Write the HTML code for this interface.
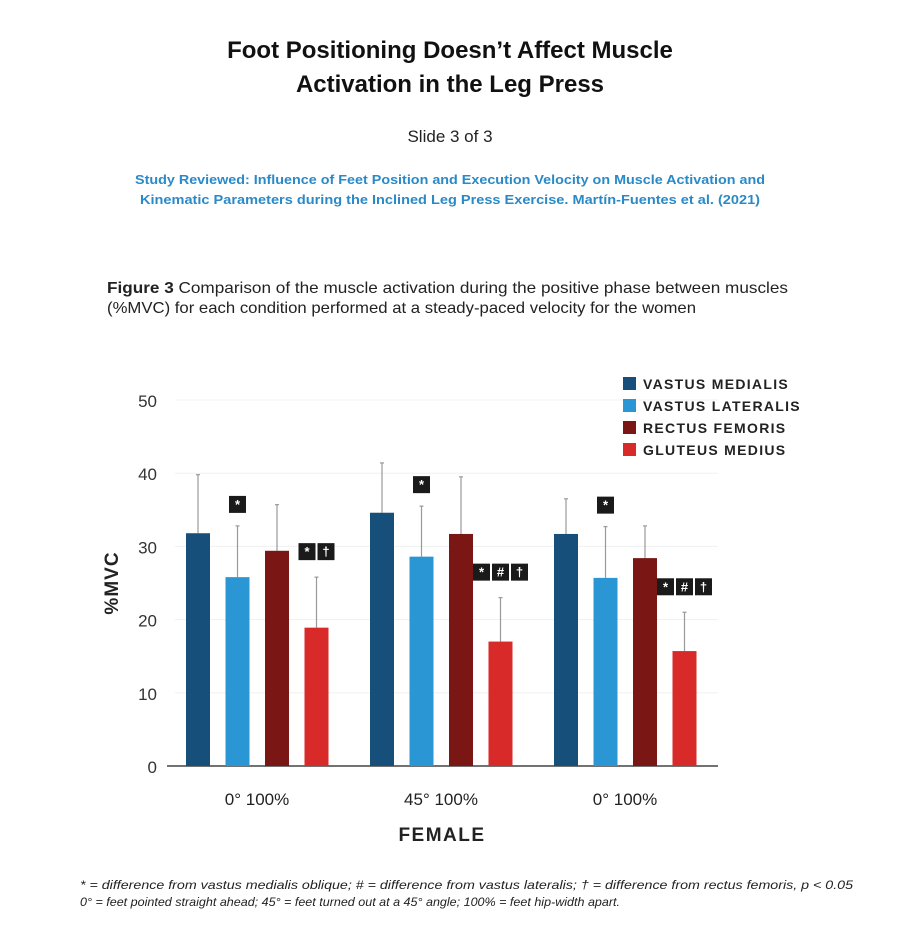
<!DOCTYPE html>
<html><head><meta charset="utf-8"><style>
html,body{margin:0;padding:0;background:#fff;}
svg{display:block;font-family:"Liberation Sans",sans-serif;}
</style></head><body>
<svg id="chart" width="918" height="929" viewBox="0 0 918 929">
<text x="450" y="58" text-anchor="middle" font-size="24" font-weight="bold" fill="#111">Foot Positioning Doesn’t Affect Muscle</text>
<text x="450" y="92" text-anchor="middle" font-size="24" font-weight="bold" fill="#111">Activation in the Leg Press</text>
<text x="450" y="142" text-anchor="middle" font-size="17" fill="#222">Slide 3 of 3</text>
<text x="450" y="184" text-anchor="middle" font-size="13" font-weight="bold" fill="#2a8ac8" textLength="630" lengthAdjust="spacingAndGlyphs">Study Reviewed: Influence of Feet Position and Execution Velocity on Muscle Activation and</text>
<text x="450" y="204" text-anchor="middle" font-size="13" font-weight="bold" fill="#2a8ac8" textLength="620" lengthAdjust="spacingAndGlyphs">Kinematic Parameters during the Inclined Leg Press Exercise. Martín-Fuentes et al. (2021)</text>
<text x="107" y="293" font-size="16" fill="#222" textLength="681" lengthAdjust="spacingAndGlyphs"><tspan font-weight="bold">Figure 3</tspan>   Comparison of the muscle activation during the positive phase between muscles</text>
<text x="107" y="313" font-size="16" fill="#222" textLength="589" lengthAdjust="spacingAndGlyphs">(%MVC) for each condition performed at a steady-paced velocity for the women</text>
<g id="grid"></g><g id="bars"></g><g id="ann"></g>
<text transform="translate(118,583) rotate(-90)" text-anchor="middle" font-size="19" font-weight="bold" fill="#222" letter-spacing="1">%MVC</text>
<text x="442" y="841" text-anchor="middle" font-size="19" font-weight="bold" fill="#222" letter-spacing="1.5">FEMALE</text>
<g id="legend"></g>
<text x="80" y="889" font-size="12" font-style="italic" fill="#222" textLength="773" lengthAdjust="spacingAndGlyphs">* = difference from vastus medialis oblique; # = difference from vastus lateralis; † = difference from rectus femoris, p &lt; 0.05</text>
<text x="80" y="906" font-size="12" font-style="italic" fill="#222" textLength="540" lengthAdjust="spacingAndGlyphs">0° = feet pointed straight ahead; 45° = feet turned out at a 45° angle; 100% = feet hip-width apart.</text>
</svg>
<script>
const categories=["0° 100%","45° 100%","0° 100%"];
const seriesNames=["VASTUS MEDIALIS","VASTUS LATERALIS","RECTUS FEMORIS","GLUTEUS MEDIUS"];
const vastusMedialis=[31.8,34.6,31.7];
const vastusLateralis=[25.8,28.6,25.7];
const rectusFemoris=[29.4,31.7,28.4];
const gluteusMedius=[18.9,17.0,15.7];
const errVM=[8.0,6.8,4.8];
const errVL=[7.0,6.9,7.0];
const errRF=[6.3,7.8,4.4];
const errGM=[6.9,6.0,5.3];
const annotations=[["","*","","*†"],["","*","","*#†"],["","*","","*#†"]];
const yTicks=[0,10,20,30,40,50];
const colors=["#164f7a","#2a96d4","#7a1614","#d92a2a"];
const NS="http://www.w3.org/2000/svg";
const y=v=>766-v*7.32;
const groupX=i=>186+i*184;
const barX=(i,s)=>groupX(i)+s*39.5;
const BW=24;
function mk(t,a,p){const e=document.createElementNS(NS,t);for(const k in a)e.setAttribute(k,a[k]);p.appendChild(e);return e;}
const grid=document.getElementById('grid');
yTicks.forEach(t=>{
 if(t>0){const l=mk('line',{x1:175,x2:718,y1:y(t),y2:y(t),stroke:'#f0f0f0','stroke-width':1},grid);
 
 }
 const tx=mk('text',{x:157,y:y(t)+7,'text-anchor':'end','font-size':17,fill:'#333'},grid);tx.textContent=t;
 
 
});
const ax=mk('line',{x1:167,x2:718,y1:766,y2:766,stroke:'#444','stroke-width':1.5},grid);


const series=[vastusMedialis,vastusLateralis,rectusFemoris,gluteusMedius];
const errs=[errVM,errVL,errRF,errGM];
const bars=document.getElementById('bars'),ann=document.getElementById('ann');
categories.forEach((c,i)=>{
 series.forEach((s,k)=>{
  const x=barX(i,k),v=s[i],e=errs[k][i],cx=x+BW/2;
  const el=mk('line',{x1:cx,x2:cx,y1:y(v),y2:y(v+e),stroke:'#999','stroke-width':1.2},bars);
  
  
  mk('line',{x1:cx-2,x2:cx+2,y1:y(v+e),y2:y(v+e),stroke:'#999','stroke-width':1.2},bars);
  const r=mk('rect',{x:x,y:y(v),width:BW,height:766-y(v),fill:colors[k]},bars);
  
  
  const a=annotations[i][k];
  if(a){const n=a.length,w=17,gap=2,tot=n*w+(n-1)*gap;
   const x0=cx-tot/2;
   const ty=y(v+e)-(k===3?34:30);
   for(let j=0;j<n;j++){
    const bx=x0+j*(w+gap);
    const b=mk('rect',{x:bx,y:ty,width:w,height:17,fill:'#1a1a1a'},ann);
    
    
    const t=mk('text',{x:bx+w/2,y:ty+13,'text-anchor':'middle','font-size':13,'font-weight':'bold',fill:'#fff'},ann);t.textContent=a[j];
   }}
 });
 const lab=mk('text',{x:groupX(i)+71,y:805,'text-anchor':'middle','font-size':17,fill:'#222'},bars);lab.textContent=c;
 
 
});
const lg=document.getElementById('legend');
seriesNames.forEach((n,k)=>{
 const yy=377+k*22;
 const sq=mk('rect',{x:623,y:yy,width:13,height:13,fill:colors[k]},lg);
 
 
 const t=mk('text',{x:643,y:yy+12,'font-size':14,'font-weight':'bold',fill:'#222','letter-spacing':1.3},lg);t.textContent=n;
 
 
});
</script>
</body></html>
